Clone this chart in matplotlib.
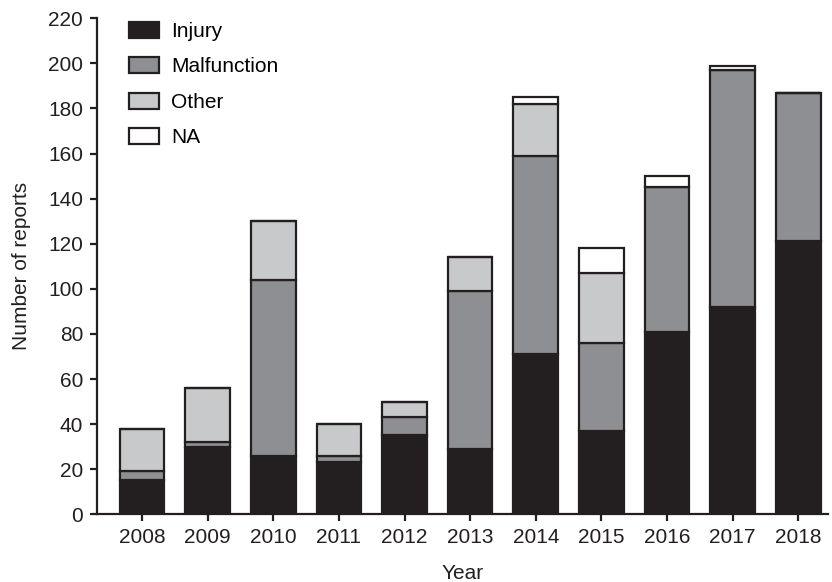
import numpy as np
import matplotlib
matplotlib.use("Agg")
import matplotlib.pyplot as plt

plt.rcParams["font.family"] = ["Liberation Sans", "DejaVu Sans"]

years = ["2008", "2009", "2010", "2011", "2012", "2013",
         "2014", "2015", "2016", "2017", "2018"]
injury      = [15, 30, 26, 23, 35, 29, 71, 37, 81, 92, 121]
malfunction = [4, 2, 78, 3, 8, 70, 88, 39, 64, 105, 66]
other       = [19, 24, 26, 14, 7, 15, 23, 31, 0, 0, 0]
na          = [0, 0, 0, 0, 0, 0, 3, 11, 5, 2, 0]

series = [
    ("Injury", injury, "#231f20"),
    ("Malfunction", malfunction, "#8e8f92"),
    ("Other", other, "#c8c9cb"),
    ("NA", na, "#ffffff"),
]
edge = "#231f20"

fig = plt.figure(figsize=(8.32, 5.82), dpi=100)
ax = fig.add_axes([0.1166, 0.1163, 0.8784, 0.8523])

# stacked bars, one layer per report type
x = np.arange(len(years))
bottom = np.zeros(len(years))
for name, vals, col in series:
    vals = np.array(vals, dtype=float)
    ax.bar(x, vals, width=0.68, bottom=bottom, color=col,
           edgecolor=edge, linewidth=1.6, label=name)
    bottom += vals

ax.set_xlim(-0.685, 10.45)
ax.set_ylim(0, 220)
ax.set_yticks(np.arange(0, 221, 20))
ax.set_xticks(x)
ax.set_xticklabels(years)

for side in ("top", "right"):
    ax.spines[side].set_visible(False)
for side in ("left", "bottom"):
    ax.spines[side].set_linewidth(1.6)
    ax.spines[side].set_color(edge)

ax.tick_params(axis="both", direction="out", length=5, width=1.6,
               color=edge, labelsize=15, labelcolor=edge, pad=5)

ax.set_xlabel("Year", fontsize=15, color=edge, labelpad=12)
ax.set_ylabel("Number of reports", fontsize=15, color=edge, labelpad=12)

ax.legend(loc="upper left", bbox_to_anchor=(0.033, 1.01), frameon=False,
          fontsize=15, handlelength=1.4, handleheight=0.8,
          handletextpad=0.6, labelspacing=0.78, borderaxespad=0)

fig.savefig("out.png", dpi=100)
